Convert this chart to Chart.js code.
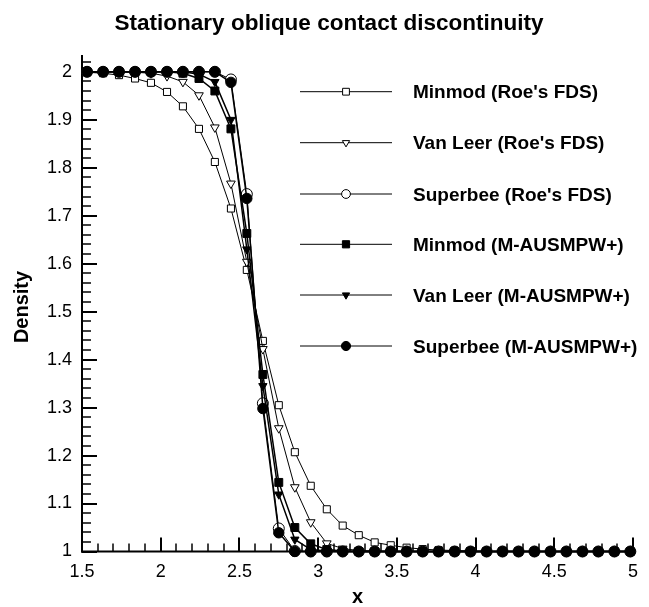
<!DOCTYPE html>
<html>
<head>
<meta charset="utf-8">
<script src="https://cdn.jsdelivr.net/npm/chart.js@4.4.0/dist/chart.umd.min.js"></script>
<style>
  html, body { margin: 0; padding: 0; background: #fff; }
  canvas { display: block; }
</style>
</head>
<body>
<canvas id="density-chart" width="649" height="607"></canvas>
<script>
// cell centres along the cut
const xCells = [
  1.532, 1.634, 1.735, 1.837, 1.938, 2.040, 2.141, 2.243, 2.344, 2.446,
  2.547, 2.649, 2.750, 2.852, 2.953, 3.055, 3.156, 3.258, 3.359, 3.461,
  3.562, 3.664, 3.765, 3.867, 3.968, 4.070, 4.171, 4.273, 4.374, 4.476,
  4.577, 4.679, 4.780, 4.882, 4.983
];

const minmodRoe = [
  1.999, 1.997, 1.993, 1.986, 1.977, 1.958, 1.928, 1.881, 1.812, 1.715,
  1.587, 1.439, 1.305, 1.207, 1.137, 1.088, 1.054, 1.034, 1.019, 1.013,
  1.008, 1.005, 1.003, 1.002, 1.001, 1, 1, 1, 1, 1,
  1, 1, 1, 1, 1
];
const vanLeerRoe = [
  2, 2, 2, 1.999, 1.997, 1.991, 1.979, 1.951, 1.884, 1.767,
  1.604, 1.422, 1.257, 1.134, 1.061, 1.017, 1.006, 1.002, 1.001, 1,
  1, 1, 1, 1, 1, 1, 1, 1, 1, 1,
  1, 1, 1, 1, 1
];
const superbeeRoe = [
  2, 2, 2, 2, 2, 2, 2, 2, 2, 1.984,
  1.745, 1.309, 1.048, 1.001, 1, 1, 1, 1, 1, 1,
  1, 1, 1, 1, 1, 1, 1, 1, 1, 1,
  1, 1, 1, 1, 1
];
const minmodAus = [
  2, 2, 2, 2, 2, 2, 1.997, 1.986, 1.960, 1.881,
  1.663, 1.369, 1.144, 1.050, 1.016, 1.004, 1.001, 1, 1, 1,
  1, 1, 1, 1, 1, 1, 1, 1, 1, 1,
  1, 1, 1, 1, 1
];
const vanLeerAus = [
  2, 2, 2, 2, 2, 2, 2, 1.995, 1.979, 1.900,
  1.630, 1.345, 1.119, 1.025, 1.004, 1.001, 1, 1, 1, 1,
  1, 1, 1, 1, 1, 1, 1, 1, 1, 1,
  1, 1, 1, 1, 1
];
const superbeeAus = [
  2, 2, 2, 2, 2, 2, 2, 2, 2, 1.978,
  1.736, 1.298, 1.039, 1, 1, 1, 1, 1, 1, 1,
  1, 1, 1, 1, 1, 1, 1, 1, 1, 1,
  1, 1, 1, 1, 1
];

const seriesNames = [
  "Minmod (Roe's FDS)",
  "Van Leer (Roe's FDS)",
  "Superbee (Roe's FDS)",
  "Minmod (M-AUSMPW+)",
  "Van Leer (M-AUSMPW+)",
  "Superbee (M-AUSMPW+)"
];
const seriesValues = [minmodRoe, vanLeerRoe, superbeeRoe, minmodAus, vanLeerAus, superbeeAus];

const xTickLabels = [1.5, 2, 2.5, 3, 3.5, 4, 4.5, 5];
const yTickLabels = [1, 1.1, 1.2, 1.3, 1.4, 1.5, 1.6, 1.7, 1.8, 1.9, 2];

const FONT = "'Liberation Sans', Arial, Helvetica, sans-serif";

// marker look per series: shape, radius, fill, rotation, line width
const markers = [
  { shape: 'rect',     r: 5,   fill: '#fff', rot: 0,   lw: 1 },
  { shape: 'triangle', r: 5,   fill: '#fff', rot: 180, lw: 1 },
  { shape: 'circle',   r: 5.5, fill: '#fff', rot: 0,   lw: 1 },
  { shape: 'rect',     r: 5.6, fill: '#000', rot: 0,   lw: 1.5 },
  { shape: 'triangle', r: 4.8, fill: '#000', rot: 180, lw: 1.5 },
  { shape: 'circle',   r: 5.2, fill: '#000', rot: 0,   lw: 1.5 }
];

// later series go on top (Chart.js paints lower "order" last)
const datasets = seriesValues.map((vals, i) => ({
  label: seriesNames[i],
  data: vals.map((v, k) => ({ x: xCells[k], y: v })),
  order: seriesValues.length - i,
  borderColor: '#000',
  borderWidth: markers[i].lw,
  pointStyle: markers[i].shape,
  pointRadius: markers[i].r,
  pointRotation: markers[i].rot,
  pointBackgroundColor: markers[i].fill,
  pointBorderColor: '#000',
  pointBorderWidth: 1,
  tension: 0,
  fill: false,
  clip: false
}));

function strokeLine(ctx, x1, y1, x2, y2) {
  ctx.beginPath();
  ctx.moveTo(x1, y1);
  ctx.lineTo(x2, y2);
  ctx.stroke();
}

// small legend symbols, a bit smaller than the ones on the curves
function legendMarker(ctx, shape, filled, cx, cy) {
  ctx.beginPath();
  if (shape === 'rect') {
    const s = filled ? 3.6 : 3.4;
    ctx.rect(cx - s, cy - s, 2 * s, 2 * s);
  } else if (shape === 'triangle') {
    const r = 4.2;
    ctx.moveTo(cx - r * 0.866, cy - r * 0.5);
    ctx.lineTo(cx + r * 0.866, cy - r * 0.5);
    ctx.lineTo(cx, cy + r);
    ctx.closePath();
  } else {
    ctx.arc(cx, cy, filled ? 4.6 : 4.4, 0, Math.PI * 2);
  }
  ctx.fillStyle = filled ? '#000' : '#fff';
  ctx.fill();
  ctx.lineWidth = 1;
  ctx.strokeStyle = '#000';
  ctx.stroke();
}

const axesPlugin = {
  id: 'axesPlugin',
  beforeDatasetsDraw(chart) {
    const { ctx, chartArea: a, scales: { x, y } } = chart;
    ctx.save();
    ctx.strokeStyle = '#000';
    // x ticks every 0.1, major every 0.5, pointing into the plot
    for (let k = 0; k <= 35; k++) {
      const px = Math.round(x.getPixelForValue(1.5 + k * 0.1));
      const major = k % 5 === 0;
      ctx.lineWidth = major ? 2 : 1.5;
      strokeLine(ctx, px, a.bottom, px, a.bottom - (major ? 14 : 8));
    }
    // y ticks every 0.02, major every 0.1
    for (let k = 0; k <= 51; k++) {
      const py = Math.round(y.getPixelForValue(1 + k * 0.02));
      const major = k % 5 === 0;
      ctx.lineWidth = major ? 2 : 1.5;
      strokeLine(ctx, a.left, py, a.left + (major ? 15 : 9), py);
    }
    ctx.lineWidth = 2;
    strokeLine(ctx, a.left, a.top, a.left, a.bottom + 1);
    strokeLine(ctx, a.left - 1, a.bottom, x.getPixelForValue(5) + 2, a.bottom);
    ctx.restore();
  },
  afterDraw(chart) {
    const { ctx, chartArea: a } = chart;
    ctx.save();
    ctx.fillStyle = '#000';

    // title
    ctx.font = `bold 22.5px ${FONT}`;
    ctx.textAlign = 'center';
    ctx.textBaseline = 'alphabetic';
    ctx.fillText('Stationary oblique contact discontinuity', 329, 29.5);

    // axis titles
    ctx.font = `bold 20px ${FONT}`;
    ctx.fillText('x', (a.left + a.right) / 2, 603);
    ctx.save();
    ctx.translate(27.5, 307);
    ctx.rotate(-Math.PI / 2);
    ctx.fillText('Density', 0, 0);
    ctx.restore();

    // legend
    const rowY = [91.7, 142.7, 194, 244.3, 295, 346];
    ctx.font = `bold 19px ${FONT}`;
    ctx.textAlign = 'left';
    chart.data.datasets.forEach((ds, i) => {
      const cy = rowY[i];
      ctx.strokeStyle = '#000';
      ctx.lineWidth = 1;
      strokeLine(ctx, 300, cy, 392, cy);
      legendMarker(ctx, markers[i].shape, markers[i].fill === '#000', 346, cy);
      ctx.fillStyle = '#000';
      ctx.fillText(ds.label, 413, cy + 6.6);
    });
    ctx.restore();
  }
};

new Chart(document.getElementById('density-chart'), {
  type: 'line',
  data: { datasets },
  options: {
    responsive: false,
    animation: false,
    layout: { padding: { top: 55, right: 16, left: 0, bottom: 0 } },
    plugins: {
      legend: { display: false },
      title: { display: false },
      tooltip: { enabled: false }
    },
    scales: {
      x: {
        type: 'linear',
        min: 1.5,
        max: 5,
        grid: { display: false, drawTicks: false },
        border: { display: false },
        afterBuildTicks: axis => { axis.ticks = xTickLabels.map(v => ({ value: v })); },
        afterFit: axis => { axis.height = 55.5; },
        ticks: {
          color: '#000',
          padding: 10,
          maxRotation: 0,
          font: { family: FONT, size: 18 },
          callback: v => String(v)
        }
      },
      y: {
        type: 'linear',
        min: 1,
        max: 2.035,
        grid: { display: false, drawTicks: false },
        border: { display: false },
        afterBuildTicks: axis => { axis.ticks = yTickLabels.map(v => ({ value: v })); },
        afterFit: axis => { axis.width = 82; },
        ticks: {
          color: '#000',
          padding: 10,
          font: { family: FONT, size: 18 },
          callback: v => String(v)
        }
      }
    }
  },
  plugins: [axesPlugin]
});
</script>
</body>
</html>
